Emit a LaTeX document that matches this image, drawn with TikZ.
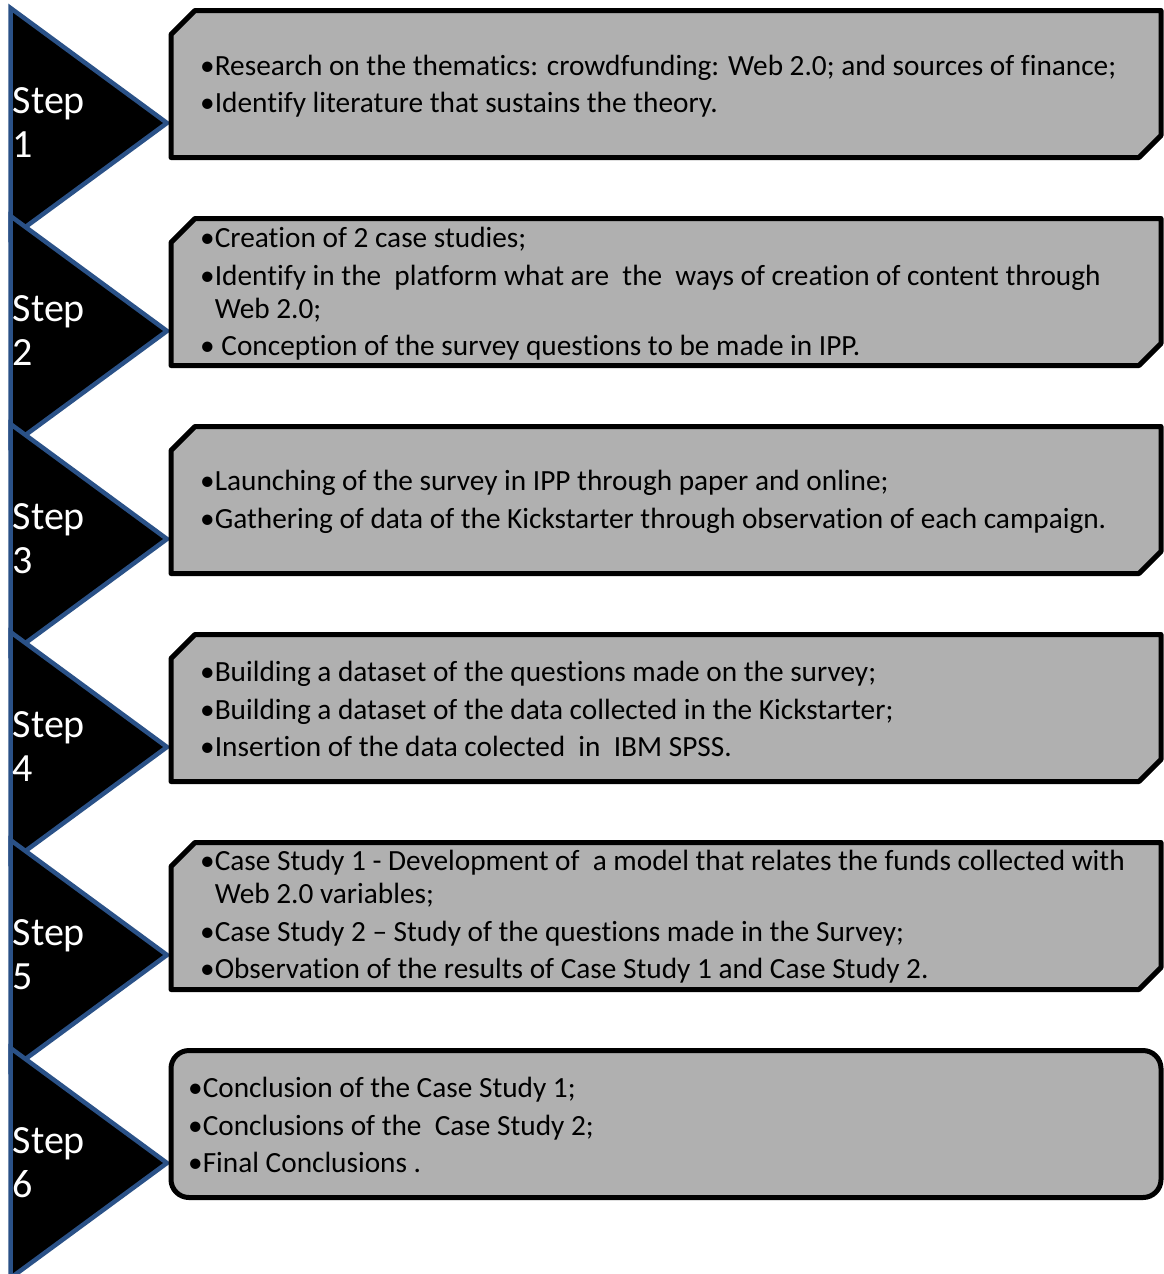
\documentclass[tikz,border=0pt]{standalone}
\usepackage{fontspec}
\setmainfont{Carlito}[Ligatures=NoCommon]
\usetikzlibrary{positioning}
\definecolor{stepblue}{HTML}{2A5187}
\definecolor{boxgray}{HTML}{B0B0B0}

\begin{document}
\begin{tikzpicture}[x=1pt, y=-1pt,
  chev/.style={fill=black, draw=stepblue, line width=4.5pt, line join=miter},
  snipbox/.style={fill=boxgray, draw=black, line width=5pt, line join=round},
  steplbl/.style={anchor=west, text=white, align=left, inner xsep=1.5pt,
                  inner ysep=0pt, font=\fontsize{40}{44}\selectfont},
  itemtxt/.style={anchor=west, align=left, inner sep=0pt,
                  font=\fontsize{29.3}{37.5}\selectfont},
]
\useasboundingbox (0,0) rectangle (1164,1274);

%% ---- chevrons on the left ----
\foreach \i in {1,...,6} {
  \pgfmathsetmacro\ay{123+208*(\i-1)}
  \draw[chev] (10.5,\ay-115) -- (167,\ay) -- (10.5,\ay+115) -- cycle;
  \node[steplbl] (s\i) at (11,\ay) {Step\\\i};
}

%% ---- snipped boxes (steps 1--5) ----
\foreach \i in {1,...,5} {
  \pgfmathsetmacro\bt{10.5+208*(\i-1)}
  \pgfmathsetmacro\bb{157.5+208*(\i-1)}
  \draw[snipbox] (171,\bt+24) -- (195,\bt) -- (1161,\bt) -- (1161,\bb-22)
    -- (1139,\bb) -- (171,\bb) -- cycle;
}
% last box has round corners
\draw[snipbox, rounded corners=18pt] (171,1050.5) rectangle (1161,1197.5);

%% ---- box texts ----
% step 1: research
\node[itemtxt] (res) at (200,86) {%
  \textbullet Research on the thematics: crowdfunding: Web 2.0; and sources of finance;\\
  \textbullet Identify literature that sustains the theory.};

% step 2: case studies
\node[itemtxt] (cases) at (200,294) {%
  \textbullet Creation of 2 case studies;\\
  \textbullet Identify in the\ \ platform what are\ \ the\ \ ways of creation of content through\\[-4.5pt]
  \phantom{\textbullet}Web 2.0;\\
  \textbullet\ Conception of the survey questions to be made in IPP.};

% step 3: survey launch
\node[itemtxt] (launch) at (200,502) {%
  \textbullet Launching of the survey in IPP through paper and online;\\
  \textbullet Gathering of data of the Kickstarter through observation of each campaign.};

% step 4: datasets
\node[itemtxt] (data) at (200,709) {%
  \textbullet Building a dataset of the questions made on the survey;\\
  \textbullet Building a dataset of the data collected in the Kickstarter;\\
  \textbullet Insertion of the data colected\ \ in\ \ IBM SPSS.};

% step 5: analysis
\node[itemtxt] (anal) at (200,917) {%
  \textbullet Case Study 1 - Development of\ \ a model that relates the funds collected with\\[-4.5pt]
  \phantom{\textbullet}Web 2.0 variables;\\
  \textbullet Case Study 2 -- Study of the questions made in the Survey;\\
  \textbullet Observation of the results of Case Study 1 and Case Study 2.};

% step 6: conclusions
\node[itemtxt] (concl) at (188,1125) {%
  \textbullet Conclusion of the Case Study 1;\\
  \textbullet Conclusions of the\ \ Case Study 2;\\
  \textbullet Final Conclusions .};

\end{tikzpicture}
\end{document}
